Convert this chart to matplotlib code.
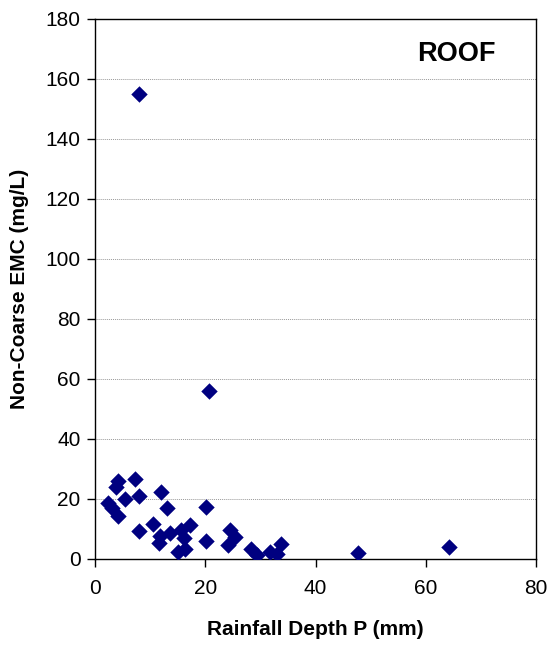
import numpy as np
import matplotlib
matplotlib.use("Agg")
import matplotlib.pyplot as plt

plt.rcParams['font.family'] = ['Liberation Sans', 'DejaVu Sans']

# rainfall depth (mm) and non-coarse EMC (mg/L)
depth = [4.2, 3.8, 7.3, 5.4, 8.0, 12.0, 2.4, 3.0, 4.2, 13.0,
         20.1, 7.9, 10.5, 11.8, 11.6, 13.6, 15.6, 17.3, 16.1, 15.0,
         16.4, 20.2, 24.5, 25.4, 24.2, 28.3, 29.3, 31.8, 33.1, 33.7,
         47.7, 64.3, 8.0, 20.7]
emc = [26.1, 24.1, 26.7, 19.9, 21.0, 22.4, 18.6, 16.9, 14.3, 16.9,
       17.4, 9.4, 11.6, 7.8, 5.5, 8.7, 9.7, 11.2, 7.0, 2.2,
       3.4, 5.9, 9.7, 7.4, 4.7, 3.2, 1.3, 2.4, 1.7, 4.9,
       2.1, 4.1, 155.0, 56.1]

xticks = [0, 20, 40, 60, 80]
yticks = [0, 20, 40, 60, 80, 100, 120, 140, 160, 180]

fig = plt.figure(figsize=(5.49, 6.46), dpi=100)
ax = fig.add_axes([95/549, 1 - 559/646, (536 - 95)/549, (559 - 19)/646])

ax.scatter(depth, emc, marker='D', s=70, color='#000080', linewidths=0, zorder=3)

ax.set_xlim(0, 80)
ax.set_ylim(0, 180)
ax.set_xticks(xticks)
ax.set_yticks(yticks)
ax.yaxis.grid(True, linestyle=(0, (1, 1)), color='#999999', linewidth=0.7)
ax.set_axisbelow(True)

for s in ax.spines.values():
    s.set_linewidth(1.0)
    s.set_color('black')

ax.tick_params(axis='both', labelsize=15, direction='out', length=5.5, width=1.0)
ax.tick_params(axis='x', pad=9)
ax.tick_params(axis='y', pad=5)

ax.set_xlabel('Rainfall Depth P (mm)', fontsize=15, fontweight='bold', labelpad=16)
ax.set_ylabel('Non-Coarse EMC (mg/L)', fontsize=15, fontweight='bold', labelpad=12)

ax.text(65.5, 168.4, 'ROOF', fontsize=19.5, fontweight='bold', ha='center', va='center')

fig.savefig('out.png', dpi=100)
